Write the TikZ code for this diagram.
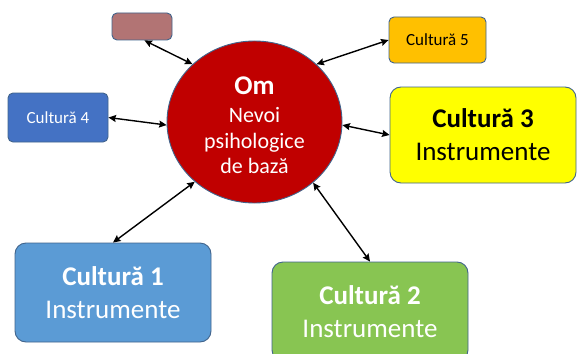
\documentclass[tikz,border=0pt]{standalone}
\usepackage{fontspec}
\setmainfont{Carlito}
\usetikzlibrary{arrows.meta,shapes.geometric}
\definecolor{omred}{RGB}{192,0,0}
\definecolor{edgeblue}{RGB}{65,100,140}
\definecolor{rosebox}{RGB}{178,116,116}
\definecolor{bluefour}{RGB}{68,114,196}
\definecolor{orangefive}{RGB}{255,192,0}
\definecolor{yellowthree}{RGB}{255,255,0}
\definecolor{blueone}{RGB}{91,155,213}
\definecolor{greentwo}{RGB}{136,197,82}
\tikzset{
  omnode/.style={ellipse,draw=edgeblue,line width=.9pt,fill=omred,minimum width=175pt,minimum height=162pt,inner sep=0pt},
  omword/.style={anchor=base,text=white,inner sep=0pt,font=\fontsize{22}{26}\selectfont},
  smallbox/.style={rectangle,rounded corners=5pt,draw=edgeblue,line width=.9pt,inner sep=0pt,font=\fontsize{17}{20}\selectfont},
  bigbox/.style={rectangle,rounded corners=11pt,draw=edgeblue,line width=.9pt,inner sep=0pt,minimum width=196pt,minimum height=99pt,align=center,font=\fontsize{27}{33}\selectfont},
  link/.style={{Stealth[length=7.5pt,width=7pt,inset=1pt]}-{Stealth[length=7.5pt,width=7pt,inset=1pt]},line width=1.4pt}
}
\begin{document}
\begin{tikzpicture}[x=1pt,y=-1pt]
\clip (0,0) rectangle (577,353);
\fill[white] (0,0) rectangle (577,353);
% centre
\node[omnode] (om) at (254.5,122) {};
\node[omword,font=\fontsize{27}{30}\selectfont\bfseries] (omtitle) at (254.5,94) {Om};
\node[omword] (omline1) at (254.5,122) {Nevoi};
\node[omword] (omline2) at (254.5,148) {psihologice};
\node[omword] (omline3) at (254.5,173) {de bază};
% small boxes
\node[smallbox,fill=rosebox,minimum width=60pt,minimum height=27pt] (c0) at (142,26.5) {};
\node[smallbox,fill=bluefour,text=white,minimum width=100pt,minimum height=49pt] (c4) at (58,117.5) {Cultură 4};
\node[smallbox,fill=orangefive,minimum width=97pt,minimum height=46pt] (c5) at (437.5,40) {Cultură 5};
% big boxes
\node[bigbox,fill=yellowthree,minimum width=186pt,minimum height=96pt] (c3) at (483,135) {\textbf{Cultură 3}\\Instrumente};
\node[bigbox,fill=blueone,text=white] (c1) at (113,292.5) {\textbf{Cultură 1}\\Instrumente};
\node[bigbox,fill=greentwo,text=white] (c2) at (370,311.5) {\textbf{Cultură 2}\\Instrumente};
% links
\draw[link] (c0.-80) -- (om.137);
\draw[link] (om.43) -- (c5.west);
\draw[link] (c4.east) -- (om.182);
\draw[link] (om.-2) -- (c3.west);
\draw[link] (c1.north) -- (om.225);
\draw[link] (om.-46) -- (c2.north);
\end{tikzpicture}
\end{document}
